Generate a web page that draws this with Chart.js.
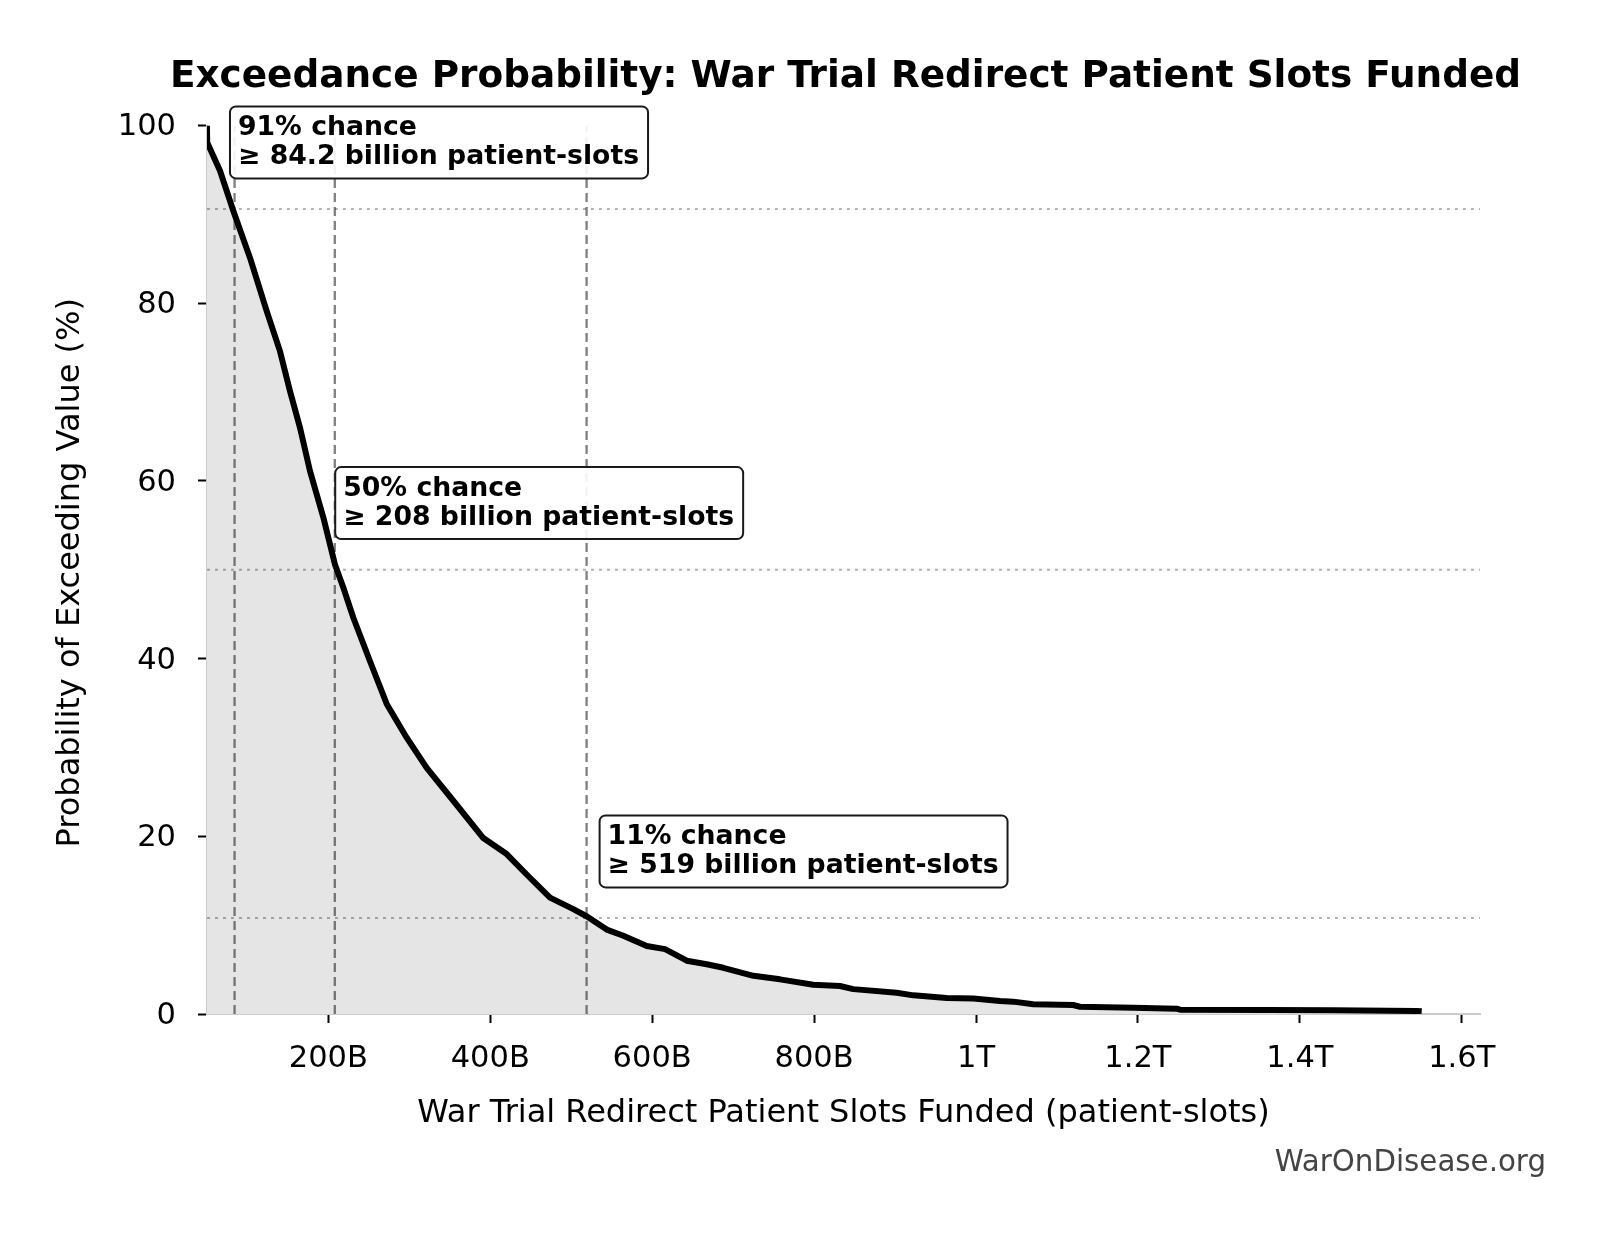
<!DOCTYPE html>
<html>
<head>
<meta charset="utf-8">
<title>Exceedance Probability</title>
<script src="https://cdn.jsdelivr.net/npm/chart.js@4.4.1/dist/chart.umd.min.js"></script>
<style>
  html, body { margin: 0; padding: 0; background: #fff; }
  #chart { display: block; }
</style>
</head>
<body>
<canvas id="chart" width="1604" height="1234"></canvas>
<script>
// Curve: patient-slots funded (billions) vs. chance of exceeding it (%)
const slotsB = [
  50.1, 50.4, 66.2, 82.6, 103.3, 123.9, 140.3, 152.7, 165, 177.4,
  193.8, 208.2, 218.5, 230.9, 251.5, 272.1, 296.8, 321.5, 354.4, 391.4,
  420.3, 445, 473.8, 502.6, 519, 543.9, 564.4, 593.3, 615.9, 642.7,
  667.4, 687.9, 725, 757.9, 799, 832, 848.4, 902, 922.6, 963.8,
  996.7, 1029.6, 1046, 1070.8, 1120, 1128.4, 1194, 1247.8, 1252, 1359,
  1441, 1544, 1550.5
];
const exceedPct = [
  100, 98.1, 94.9, 90.4, 85.1, 79.1, 74.6, 70.1, 66.0, 61.1,
  55.9, 50.6, 48.0, 44.6, 39.7, 34.9, 31.1, 27.7, 24.0, 19.8,
  18.0, 15.7, 13.1, 11.8, 11.0, 9.5, 8.8, 7.65, 7.3, 6.0,
  5.6, 5.2, 4.3, 3.9, 3.3, 3.15, 2.8, 2.4, 2.1, 1.8,
  1.75, 1.46, 1.39, 1.09, 1.01, 0.82, 0.71, 0.6, 0.48, 0.45,
  0.41, 0.34, 0.3
];

// Marked thresholds (value in billions, exceedance %)
const thresholdValues = [84.2, 208, 519];
const thresholdProbs = [90.6, 50.0, 10.8];

// Axis ticks
const xTickValues = [200, 400, 600, 800, 1000, 1200, 1400, 1600];
const xTickLabels = ['200B', '400B', '600B', '800B', '1T', '1.2T', '1.4T', '1.6T'];
const yTickValues = [0, 20, 40, 60, 80, 100];

const X_MIN = 50.15;
const X_MAX = 1622.5;

const FONT = "'DejaVu Sans', 'Liberation Sans', sans-serif";

Chart.defaults.font.family = FONT;
Chart.defaults.color = '#000';

// Build datasets
const curvePoints = slotsB.map((v, i) => ({ x: v, y: exceedPct[i] }));

const vLineSets = thresholdValues.map(v => ({
  data: [{ x: v, y: 0 }, { x: v, y: 100 }],
  borderColor: 'rgba(0,0,0,0.5)',
  borderWidth: 2.3,
  borderDash: [9, 5],
  pointRadius: 0,
  fill: false
}));

const hLineSets = thresholdProbs.map(p => ({
  data: [{ x: X_MIN, y: p }, { x: X_MAX, y: p }],
  borderColor: 'rgba(0,0,0,0.3)',
  borderWidth: 2,
  borderDash: [3, 5],
  pointRadius: 0,
  fill: false
}));

function roundedBox(ctx, x, y, w, h, r) {
  ctx.beginPath();
  ctx.moveTo(x + r, y);
  ctx.arcTo(x + w, y, x + w, y + h, r);
  ctx.arcTo(x + w, y + h, x, y + h, r);
  ctx.arcTo(x, y + h, x, y, r);
  ctx.arcTo(x, y, x + w, y, r);
  ctx.closePath();
}

// Annotation boxes next to each threshold
const thresholdBoxes = {
  id: 'thresholdBoxes',
  afterDatasetsDraw(chart) {
    const { ctx, scales } = chart;
    ctx.save();
    ctx.font = 'bold 26.7px ' + FONT;
    ctx.textAlign = 'left';
    ctx.textBaseline = 'alphabetic';
    thresholdValues.forEach((v, i) => {
      const p = thresholdProbs[i];
      const lines = [
        Math.round(p) + '% chance',
        '\u2265 ' + v.toPrecision(3) + ' billion patient-slots'
      ];
      const pen = scales.x.getPixelForValue(v * 1.05);
      const yc = scales.y.getPixelForValue(p + 7.5);
      const w = Math.max(...lines.map(t => ctx.measureText(t).width));
      const left = pen - 8;
      const right = pen + w + 9;
      roundedBox(ctx, left, yc - 36, right - left, 72, 6);
      ctx.fillStyle = 'rgba(255,255,255,0.9)';
      ctx.fill();
      ctx.lineWidth = 2;
      ctx.strokeStyle = '#1a1a1a';
      ctx.stroke();
      ctx.fillStyle = '#000';
      ctx.fillText(lines[0], pen, yc - 7);
      ctx.fillText(lines[1], pen, yc + 22);
    });
    ctx.restore();
  }
};

// Title, axis titles and footer
const chartTexts = {
  id: 'chartTexts',
  afterDraw(chart) {
    const { ctx, chartArea } = chart;
    const cx = (chartArea.left + chartArea.right) / 2;
    const cy = (chartArea.top + chartArea.bottom) / 2;
    ctx.save();
    ctx.fillStyle = '#000';
    ctx.textBaseline = 'alphabetic';
    ctx.textAlign = 'center';

    ctx.font = 'bold 37.4px ' + FONT;
    ctx.fillText('Exceedance Probability: War Trial Redirect Patient Slots Funded', cx + 2, 87);

    ctx.font = '32px ' + FONT;
    ctx.fillText('War Trial Redirect Patient Slots Funded (patient-slots)', cx, 1122);

    ctx.save();
    ctx.translate(79, cy + 3);
    ctx.rotate(-Math.PI / 2);
    ctx.fillText('Probability of Exceeding Value (%)', 0, 0);
    ctx.restore();

    ctx.font = '29.3px ' + FONT;
    ctx.fillStyle = '#444';
    ctx.textAlign = 'right';
    ctx.fillText('WarOnDisease.org', 1546, 1171);
    ctx.restore();
  }
};

new Chart(document.getElementById('chart'), {
  type: 'line',
  data: {
    datasets: [
      {
        data: curvePoints,
        borderColor: '#000',
        borderWidth: 6,
        borderJoinStyle: 'round',
        borderCapStyle: 'butt',
        backgroundColor: '#e5e5e5',
        fill: 'origin',
        pointRadius: 0,
        tension: 0
      },
      ...vLineSets,
      ...hLineSets
    ]
  },
  options: {
    responsive: false,
    devicePixelRatio: 1,
    animation: false,
    events: [],
    layout: { padding: { top: 125.5, right: 124, bottom: 0, left: 0 } },
    plugins: {
      legend: { display: false },
      tooltip: { enabled: false },
      title: { display: false },
      filler: { drawTime: 'beforeDatasetsDraw' }
    },
    scales: {
      x: {
        type: 'linear',
        min: X_MIN,
        max: X_MAX,
        afterFit: s => { s.height = 220; },
        afterBuildTicks: s => { s.ticks = xTickValues.map(v => ({ value: v })); },
        ticks: {
          font: { size: 30.5 },
          color: '#000',
          padding: 18,
          maxRotation: 0,
          autoSkip: false,
          callback: v => xTickLabels[xTickValues.indexOf(v)]
        },
        grid: {
          drawOnChartArea: false,
          drawTicks: true,
          tickLength: 9,
          tickColor: '#000',
          tickWidth: 2
        },
        border: { display: true, color: '#cccccc', width: 2 }
      },
      y: {
        type: 'linear',
        min: 0,
        max: 100,
        afterFit: s => { s.width = 207; },
        afterBuildTicks: s => { s.ticks = yTickValues.map(v => ({ value: v })); },
        ticks: {
          font: { size: 30.5 },
          color: '#000',
          padding: 22,
          labelOffset: 2
        },
        grid: {
          drawOnChartArea: false,
          drawTicks: true,
          tickLength: 9,
          tickColor: '#000',
          tickWidth: 2
        },
        border: { display: true, color: '#cccccc', width: 2 }
      }
    }
  },
  plugins: [thresholdBoxes, chartTexts]
});
</script>
</body>
</html>
